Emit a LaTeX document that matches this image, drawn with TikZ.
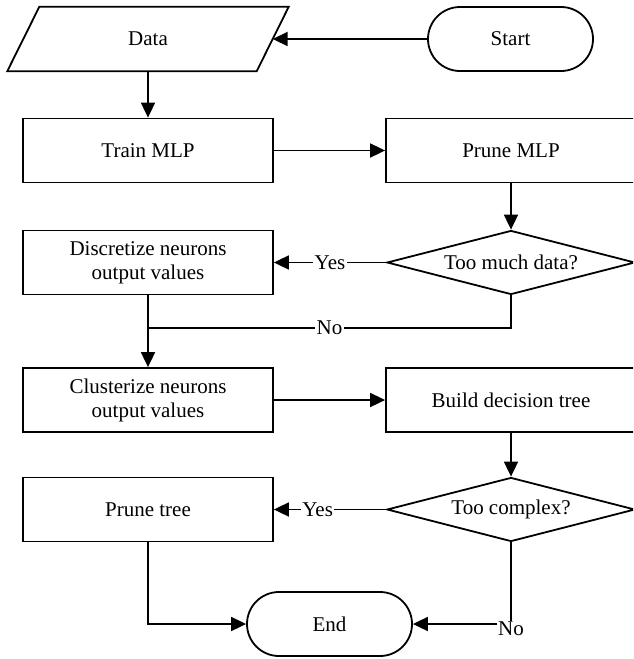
\documentclass[tikz,border=0pt]{standalone}
\usepackage{fontspec}
\setmainfont{Liberation Serif}
\usetikzlibrary{arrows.meta,shapes.geometric}
\begin{document}
\begin{tikzpicture}[x=1pt,y=-1pt,
  every node/.style={font=\fontsize{21}{24}\selectfont},
  line/.style={line width=1.8pt},
  arr/.style={line width=1.8pt, -{Triangle[length=15pt,width=14pt]}},
  proc/.style={draw, line width=1.8pt, minimum width=250pt, minimum height=64pt, inner sep=0pt, align=center},
  term/.style={draw, line width=1.8pt, rounded corners=32pt, minimum width=165pt, minimum height=64pt, inner sep=0pt},
  dec/.style={draw, line width=1.8pt, diamond, aspect=3.875, minimum width=248pt, minimum height=64pt, inner sep=0pt},
  lbl/.style={fill=white, inner sep=1.5pt}]
\useasboundingbox (0,0) rectangle (633,659);
\clip (0,0) rectangle (633,659);
% nodes
\node[minimum width=249pt, minimum height=64pt, inner sep=0pt] (data) at (148,39) {Data};
\draw[line width=1.8pt] ([xshift=16pt]data.north west) -- ([xshift=16pt]data.north east) -- ([xshift=-16pt]data.south east) -- ([xshift=-16pt]data.south west) -- cycle;
\node[term] (start) at (510.5,39) {Start};
\node[proc] (train) at (148,150.5) {Train MLP};
\node[proc] (prune) at (511,150.5) {Prune MLP};
\node[dec] (q1) at (511,262.5) {Too much data?};
\node[proc] (disc) at (148,262.5) {Discretize neurons\\output values};
\coordinate (jn) at (148,328);
\node[proc] (clus) at (148,400) {Clusterize neurons\\output values};
\node[proc] (build) at (511,400) {Build decision tree};
\node[dec] (q2) at (511,509.5) {Too complex?};
\node[proc] (ptree) at (148,509.5) {Prune tree};
\node[term] (end) at (329.5,624) {End};
% connectors
\draw[arr] (start.west) -- (data.east);
\draw[arr] (data.south) -- (train.north);
\draw[arr] (train.east) -- (prune.west);
\draw[arr] (prune.south) -- (q1.north);
\draw[arr] (q1.west) -- node[lbl]{Yes} (disc.east);
\draw[line] (q1.south) |- node[lbl, pos=0.75]{No} (jn);
\draw[arr] (disc.south) -- (clus.north);
\draw[arr] (clus.east) -- (build.west);
\draw[arr] (build.south) -- (q2.north);
\draw[arr] (q2.west) -- node[lbl, pos=0.61]{Yes} (ptree.east);
\draw[arr] (ptree.south) |- (end.west);
\draw[arr] (q2.south) |- node[lbl, pos=0.5, yshift=-5pt]{No} (end.east);
\end{tikzpicture}
\end{document}
